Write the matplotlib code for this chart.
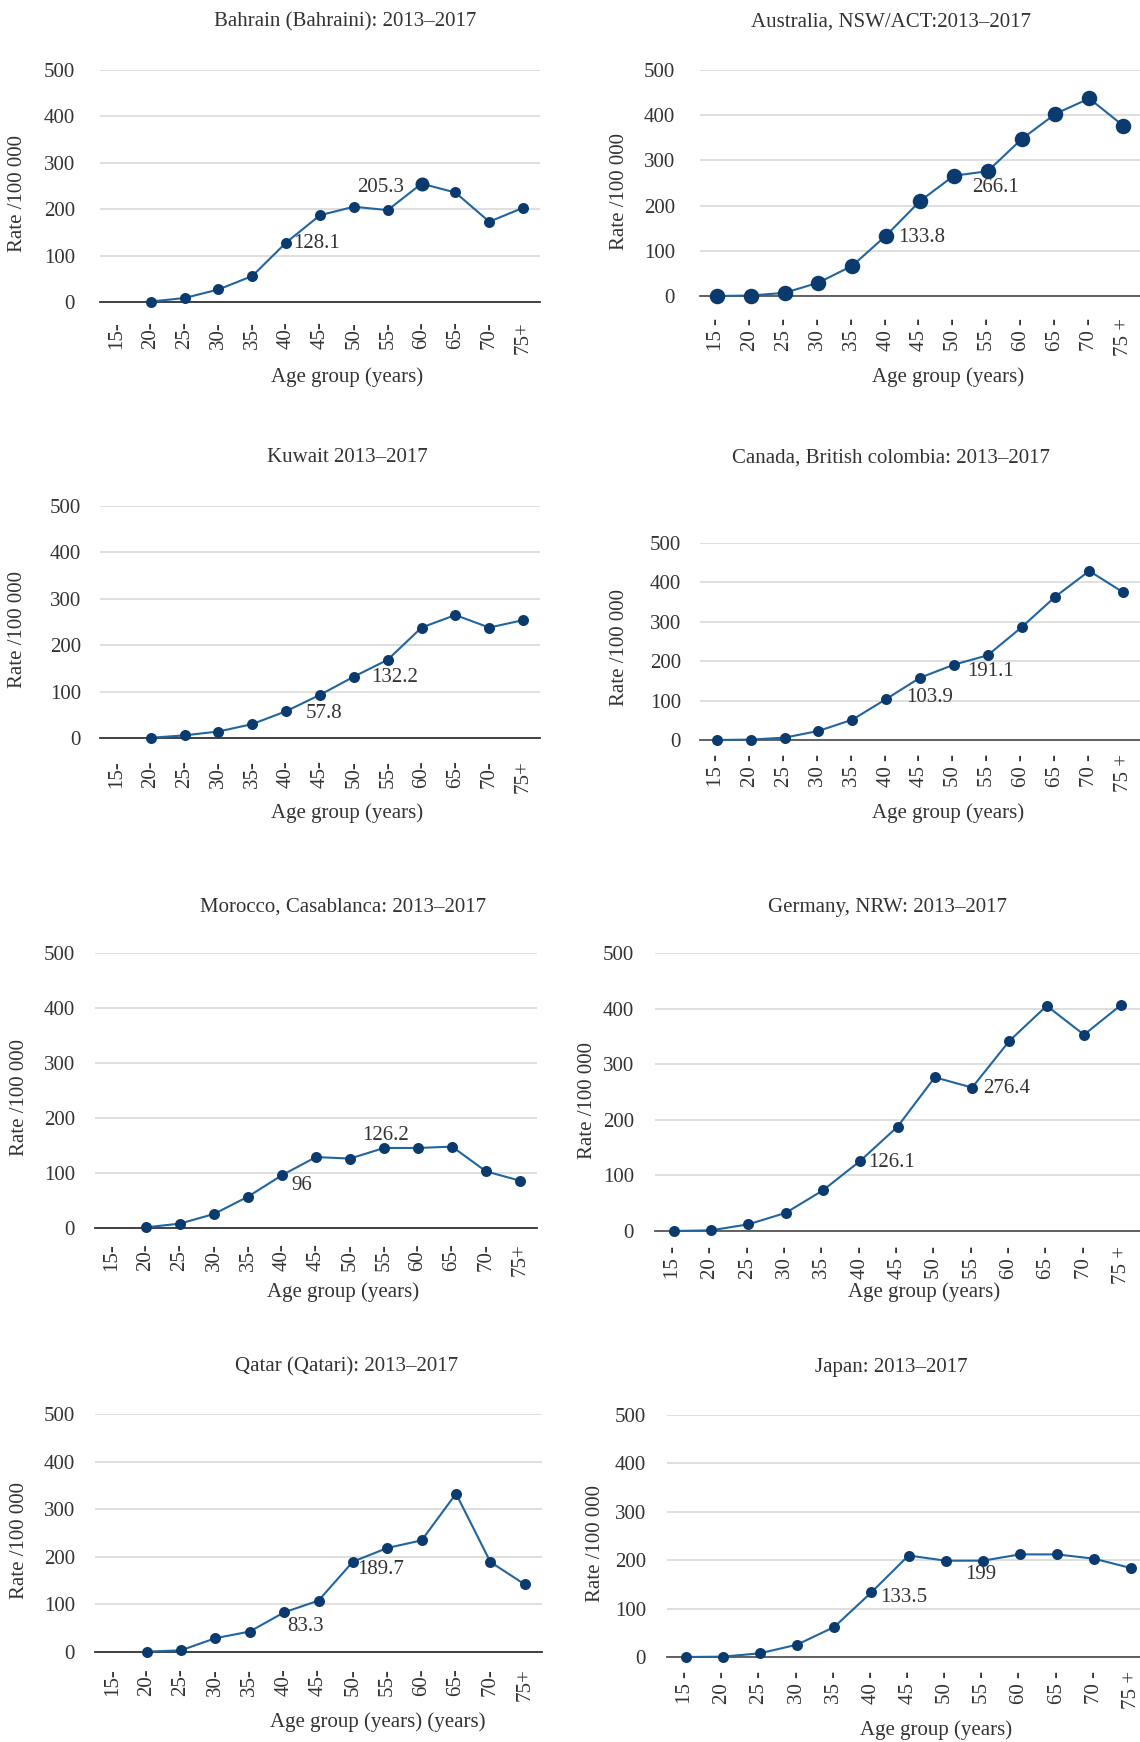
import matplotlib
matplotlib.use("Agg")
import matplotlib.pyplot as plt
import numpy as np

# ---------------------------------------------------------------------------
# Data: rate per 100 000 by age group (NaN = no point drawn)
# ---------------------------------------------------------------------------
AGE_LEFT  = ["15-", "20-", "25-", "30-", "35-", "40-", "45-", "50-", "55-",
             "60-", "65-", "70-", "75+"]
AGE_RIGHT = ["15 -", "20 -", "25 -", "30 -", "35 -", "40 -", "45 -", "50 -",
             "55 -", "60 -", "65 -", "70 -", "75 +"]

bahrain   = [np.nan, 1, 8.6, 27, 56, 128.1, 187, 205.3, 198, 255, 236, 173, 203]
australia = [0, 1, 7, 29.5, 67, 133.8, 210, 266.1, 276, 347, 403, 437, 377]
kuwait    = [np.nan, 0.5, 5.7, 14, 30, 57.8, 93, 132.2, 168.6, 238, 265, 238, 254]
canada    = [0, 1, 6, 23, 51.5, 103.9, 158, 191.1, 215, 286, 364, 429, 375]
morocco   = [np.nan, 1.2, 8, 25.5, 57, 96, 129, 126.2, 145.5, 145.5, 148, 103, 86]
germany   = [0, 1.2, 12, 32.5, 73, 126.1, 187.5, 276.4, 258, 342, 405, 353, 407]
qatar     = [np.nan, 0.7, 3.5, 29, 43, 83.3, 108, 189.7, 218.5, 234.6, 332.6, 189, 142]
japan     = [0, 0.7, 7.6, 25.5, 62, 133.5, 209.7, 199, 199, 212, 212, 203, 183.5]

TITLES = [
    "Bahrain (Bahraini): 2013\u20132017",
    "Australia, NSW/ACT:2013\u20132017",
    "Kuwait 2013\u20132017",
    "Canada, British colombia: 2013\u20132017",
    "Morocco, Casablanca: 2013\u20132017",
    "Germany, NRW: 2013\u20132017",
    "Qatar (Qatari): 2013\u20132017",
    "Japan: 2013\u20132017",
]
XLABELS = ["Age group (years)"] * 6 + ["Age group (years) (years)", "Age group (years)"]
SERIES = [bahrain, australia, kuwait, canada, morocco, germany, qatar, japan]

# data labels: (age index, text, dx px, dy px down)
LABELS = [
    [(5, "128.1", 30, 1), (7, "205.3", 27, -19)],
    [(5, "133.8", 36, 2), (7, "266.1", 42, 12)],
    [(5, "57.8", 38, 2), (7, "132.2", 41, 1)],
    [(5, "103.9", 43, -2), (7, "191.1", 37, 7)],
    [(5, "96", 20, 10), (7, "126.2", 36, -23)],
    [(5, "126.1", 31, 2), (8, "276.4", 35, 1)],
    [(5, "83.3", 21, 14), (7, "189.7", 28, 8)],
    [(5, "133.5", 32, 5), (7, "199", 35, 14)],
]

# ---------------------------------------------------------------------------
# Layout (pixel boxes in the 1140 x 1742 figure)
# left, right, top(500), bottom(0), xlim right, marker px, xtick pad, ytick pad,
# title (x, y), ylabel (x, y), xlabel (x, y)
# ---------------------------------------------------------------------------
LAYOUT = [
    (100, 540, 70, 302, 12.5, 11, 19, 25, (345, 22), (18, 193), (347, 377)),
    (700, 1140, 70, 296, 12.5, 15.5, 22, 25, (891, 22), (619, 192), (948, 377)),
    (100, 540, 506, 738, 12.5, 11, 22, 19, (347, 458), (18, 630), (347, 813)),
    (700, 1140, 543, 740, 12.5, 11, 14, 19, (891, 458), (619, 648), (948, 813)),
    (95, 537, 953, 1228, 12.5, 11, 15, 20, (343, 907), (20, 1098), (343, 1292)),
    (655, 1140, 953, 1231, 12.5, 11, 15, 21, (887, 907), (588, 1100), (924, 1292)),
    (95, 542, 1414, 1652, 12.5, 11, 16, 20, (347, 1367), (20, 1540), (378, 1722)),
    (667, 1140, 1415, 1657, 12.23, 11, 14, 21, (891, 1367), (596, 1543), (936, 1730)),
]

W, H = 1140, 1742
DPI = 100
PT = 72 / DPI  # px -> pt
FS = 15

plt.rcParams.update({
    "font.family": ["Liberation Serif", "DejaVu Serif"],
    "font.size": FS,
    "text.color": "#333333",
})

C_LINE = "#2064a0"
C_MARK = "#0a3a6e"

fig = plt.figure(figsize=(W / DPI, H / DPI), dpi=DPI)
fig.patch.set_facecolor("white")

for i, (vals, lay) in enumerate(zip(SERIES, LAYOUT)):
    (l, r, t, b, xr, msz, xpad, ypad, tpos, ylpos, xlpos) = lay
    ax = fig.add_axes([l / W, 1 - b / H, (r - l) / W, (b - t) / H])
    x = np.arange(len(vals))
    y = np.array(vals, dtype=float)

    ax.plot(x, y, "-", color=C_LINE, lw=1.5, zorder=3, clip_on=False)
    ax.plot(x, y, "o", color=C_MARK, ms=msz * PT, mec="none", zorder=4, clip_on=False)
    if i == 0:
        # enlarged 60- marker in Bahrain panel
        ax.plot(x[9], y[9], "o", color=C_MARK, ms=14 * PT, mec="none", zorder=4)

    ax.set_xlim(-0.5, xr)
    ax.set_ylim(0, 500)
    ax.set_yticks([0, 100, 200, 300, 400, 500])
    ax.set_xticks(x)
    ax.set_xticklabels(AGE_LEFT if i % 2 == 0 else AGE_RIGHT, rotation=90)
    ax.tick_params(axis="x", length=0, pad=xpad * PT, labelsize=FS, colors="#333333")
    ax.tick_params(axis="y", length=0, pad=ypad * PT, labelsize=FS, colors="#333333")

    for s in ["top", "right", "left"]:
        ax.spines[s].set_visible(False)
    ax.spines["bottom"].set_color("#333333" if i % 2 == 0 else "#555555")
    ax.spines["bottom"].set_linewidth(1.3)
    ax.yaxis.grid(True, color="#d9d9d9", lw=1.2)
    ax.set_axisbelow(True)

    for idx, txt, dx, dy in LABELS[i]:
        ax.annotate(txt, xy=(x[idx], y[idx]), xytext=(dx * PT, -dy * PT),
                    textcoords="offset points", ha="center", va="center",
                    fontsize=FS, color="#333333", zorder=5)

    fig.text(tpos[0] / W, 1 - tpos[1] / H, TITLES[i], ha="center", va="center",
             fontsize=FS)
    fig.text(ylpos[0] / W, 1 - ylpos[1] / H, "Rate /100 000", ha="center",
             va="center", rotation=90, fontsize=FS)
    fig.text(xlpos[0] / W, 1 - xlpos[1] / H, XLABELS[i], ha="center", va="center",
             fontsize=FS)

fig.savefig("out.png", dpi=DPI)
plt.close(fig)
